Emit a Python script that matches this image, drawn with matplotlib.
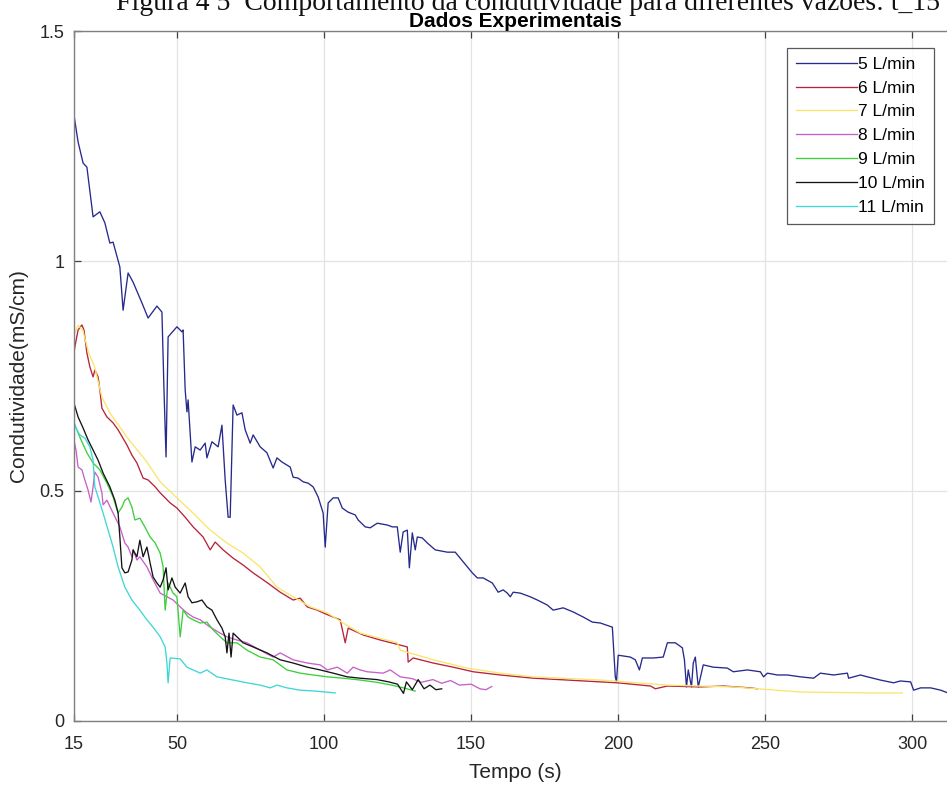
import matplotlib
matplotlib.use("Agg")
import matplotlib.pyplot as plt

# ---- data: time (s) and conductivity (mS/cm) for each flow rate ----
labels = ["5 L/min", "6 L/min", "7 L/min", "8 L/min", "9 L/min", "10 L/min", "11 L/min"]

t5 = [15.0, 16.4, 18.1, 19.4, 21.5, 23.8, 25.5, 27.2, 28.3, 30.6, 31.7, 33.4, 35.1, 38.1, 40.2, 43.2,
      44.9, 45.6, 46.3, 47.0, 50.0, 51.7, 52.1, 52.8, 53.4, 53.8, 55.1, 56.2, 57.9, 59.6, 60.2, 61.9,
      64.0, 65.3, 66.4, 67.4, 68.1, 69.1, 70.4, 72.1, 73.2, 74.9, 75.9, 78.3, 80.6, 82.7, 84.0, 85.7,
      88.5, 89.5, 91.2, 92.9, 94.6, 96.3, 98.0, 99.7, 100.4, 101.4, 103.1, 104.8, 106.2, 108.2, 110.6,
      111.6, 114.0, 115.7, 118.1, 121.5, 123.2, 124.9, 125.9, 126.9, 128.3, 129.0, 130.0, 131.0, 131.7,
      133.4, 135.1, 137.8, 141.9, 144.6, 147.3, 150.4, 152.1, 154.1, 157.2, 159.2, 160.9, 162.3, 163.3,
      164.3, 166.7, 170.1, 172.5, 175.9, 177.9, 181.3, 184.7, 188.1, 191.2, 193.9, 198.0, 199.0, 199.4,
      200.0, 204.1, 205.8, 207.2, 208.2, 212.0, 215.3, 216.7, 219.4, 221.8, 222.5, 223.2, 223.8, 224.9,
      225.5, 226.2, 227.2, 228.9, 232.3, 237.1, 239.1, 243.9, 248.3, 249.4, 250.7, 254.1, 257.5, 261.9,
      266.4, 268.7, 273.2, 277.9, 278.3, 282.3, 284.7, 289.1, 293.6, 295.9, 299.4, 300.4, 302.8, 306.2,
      309.6, 312.0, 315.0]
c5 = [1.317, 1.259, 1.213, 1.204, 1.096, 1.107, 1.083, 1.039, 1.041, 0.987, 0.893, 0.974, 0.954, 0.909,
      0.876, 0.902, 0.889, 0.720, 0.574, 0.835, 0.857, 0.846, 0.850, 0.720, 0.672, 0.698, 0.563, 0.596,
      0.589, 0.604, 0.572, 0.607, 0.596, 0.643, 0.524, 0.443, 0.443, 0.687, 0.665, 0.670, 0.633, 0.604,
      0.622, 0.596, 0.583, 0.550, 0.572, 0.563, 0.552, 0.530, 0.528, 0.520, 0.517, 0.509, 0.487, 0.452,
      0.378, 0.474, 0.485, 0.485, 0.463, 0.454, 0.448, 0.437, 0.422, 0.420, 0.430, 0.426, 0.422, 0.422,
      0.367, 0.411, 0.415, 0.333, 0.409, 0.372, 0.400, 0.398, 0.387, 0.372, 0.367, 0.367, 0.346, 0.322,
      0.311, 0.311, 0.300, 0.280, 0.285, 0.278, 0.270, 0.280, 0.278, 0.270, 0.263, 0.252, 0.241, 0.246,
      0.237, 0.226, 0.215, 0.213, 0.204, 0.096, 0.085, 0.143, 0.139, 0.133, 0.111, 0.137, 0.137, 0.139,
      0.170, 0.170, 0.159, 0.133, 0.074, 0.111, 0.074, 0.126, 0.139, 0.074, 0.122, 0.117, 0.115, 0.107,
      0.111, 0.107, 0.096, 0.104, 0.100, 0.100, 0.096, 0.093, 0.104, 0.100, 0.104, 0.093, 0.100, 0.096,
      0.089, 0.083, 0.087, 0.085, 0.067, 0.072, 0.072, 0.067, 0.061, 0.060]

t6 = [15.0, 15.3, 16.4, 17.7, 18.4, 19.4, 20.4, 21.5, 22.1, 23.2, 23.8, 24.5, 26.2, 28.3, 30.0, 33.0,
      34.7, 36.4, 38.5, 40.2, 42.6, 44.3, 47.7, 50.0, 52.8, 55.5, 58.9, 61.3, 63.0, 65.7, 69.1, 72.5,
      75.9, 79.3, 81.7, 85.1, 89.5, 91.9, 94.3, 97.7, 99.7, 103.1, 105.5, 107.2, 108.2, 113.3, 119.1,
      125.9, 128.3, 128.6, 130.3, 137.1, 143.9, 150.7, 159.9, 171.1, 182.7, 193.9, 199.7, 211.0, 212.6,
      216.7, 227.9, 235.7, 244.9, 247.3]
c6 = [0.800, 0.813, 0.850, 0.861, 0.850, 0.800, 0.770, 0.748, 0.763, 0.748, 0.720, 0.680, 0.661, 0.648,
      0.633, 0.600, 0.578, 0.561, 0.528, 0.524, 0.509, 0.496, 0.474, 0.463, 0.443, 0.422, 0.400, 0.372,
      0.389, 0.372, 0.354, 0.339, 0.322, 0.307, 0.296, 0.280, 0.263, 0.267, 0.248, 0.241, 0.235, 0.226,
      0.220, 0.170, 0.202, 0.187, 0.176, 0.165, 0.161, 0.128, 0.137, 0.126, 0.117, 0.107, 0.100, 0.093,
      0.089, 0.085, 0.083, 0.076, 0.070, 0.076, 0.074, 0.076, 0.072, 0.070]

t7 = [15.0, 16.4, 18.0, 20.0, 22.0, 24.5, 27.2, 33.0, 39.8, 44.3, 50.0, 55.5, 61.3, 67.0, 72.5, 78.3,
      84.0, 89.5, 95.3, 101.1, 106.5, 112.3, 124.9, 125.9, 137.1, 148.7, 159.9, 171.1, 193.9, 216.7,
      239.1, 262.0, 284.7, 296.6]
c7 = [0.840, 0.860, 0.850, 0.800, 0.770, 0.704, 0.670, 0.617, 0.563, 0.520, 0.485, 0.452, 0.415, 0.387,
      0.365, 0.335, 0.291, 0.270, 0.248, 0.235, 0.213, 0.191, 0.170, 0.154, 0.133, 0.115, 0.104, 0.096,
      0.089, 0.078, 0.074, 0.063, 0.061, 0.061]

t8 = [15.0, 15.7, 16.4, 17.7, 18.7, 19.8, 20.8, 21.5, 22.1, 23.2, 24.5, 24.9, 26.2, 28.3, 30.6, 32.3,
      33.4, 34.7, 35.1, 36.4, 37.4, 39.8, 41.9, 44.3, 46.6, 48.7, 51.1, 53.4, 55.5, 57.9, 61.3, 64.7,
      67.0, 70.4, 73.8, 78.3, 82.7, 85.1, 89.5, 94.3, 98.7, 101.1, 104.5, 107.9, 109.9, 112.3, 114.7,
      120.1, 122.5, 125.9, 130.0, 133.0, 137.0, 140.0, 143.0, 146.0, 150.0, 153.0, 155.0, 157.0]
c8 = [0.610, 0.589, 0.552, 0.546, 0.524, 0.502, 0.476, 0.509, 0.541, 0.530, 0.496, 0.470, 0.480, 0.452,
      0.422, 0.387, 0.378, 0.357, 0.372, 0.350, 0.357, 0.335, 0.307, 0.278, 0.270, 0.263, 0.248, 0.235,
      0.226, 0.220, 0.204, 0.191, 0.183, 0.176, 0.170, 0.154, 0.139, 0.148, 0.133, 0.126, 0.122, 0.111,
      0.117, 0.104, 0.117, 0.111, 0.107, 0.104, 0.111, 0.096, 0.092, 0.084, 0.090, 0.082, 0.088, 0.078,
      0.080, 0.070, 0.068, 0.075]

t9 = [15.0, 17.0, 19.4, 21.5, 23.8, 26.2, 28.3, 30.0, 31.3, 32.3, 33.4, 34.7, 35.7, 37.4, 39.1, 40.9,
      42.6, 44.3, 45.3, 46.0, 47.0, 48.7, 50.0, 51.1, 52.1, 53.8, 55.5, 57.9, 60.2, 62.3, 64.7, 67.0,
      70.4, 73.8, 78.3, 82.7, 87.4, 91.9, 96.3, 101.1, 106.5, 112.3, 118.0, 123.0, 127.0, 131.0]
c9 = [0.648, 0.617, 0.583, 0.561, 0.546, 0.517, 0.487, 0.452, 0.465, 0.480, 0.485, 0.465, 0.437, 0.441,
      0.422, 0.400, 0.387, 0.365, 0.335, 0.241, 0.300, 0.278, 0.270, 0.183, 0.241, 0.226, 0.220, 0.213,
      0.215, 0.198, 0.183, 0.170, 0.170, 0.154, 0.139, 0.133, 0.111, 0.104, 0.100, 0.096, 0.093, 0.089,
      0.084, 0.078, 0.072, 0.065]

t10 = [15.0, 16.4, 18.1, 19.8, 21.5, 23.2, 24.9, 27.2, 28.9, 30.0, 30.6, 31.3, 32.3, 33.4, 34.7, 35.1,
       36.4, 37.4, 38.5, 39.8, 40.9, 41.9, 43.2, 44.3, 45.3, 46.3, 47.0, 48.3, 49.4, 51.1, 52.8, 53.8,
       55.1, 56.8, 58.5, 60.2, 61.9, 63.6, 65.3, 66.4, 67.0, 67.7, 68.4, 69.1, 70.4, 72.5, 75.9, 80.6,
       85.1, 89.5, 94.3, 98.7, 103.1, 107.9, 112.3, 118.0, 122.0, 125.0, 127.0, 128.0, 130.0, 132.0,
       134.0, 136.0, 138.0, 140.0]
c10 = [0.691, 0.661, 0.637, 0.611, 0.589, 0.567, 0.539, 0.509, 0.480, 0.452, 0.400, 0.333, 0.322, 0.324,
       0.350, 0.372, 0.357, 0.393, 0.357, 0.378, 0.343, 0.313, 0.300, 0.291, 0.307, 0.333, 0.285, 0.311,
       0.291, 0.278, 0.300, 0.270, 0.257, 0.259, 0.263, 0.248, 0.241, 0.220, 0.202, 0.183, 0.148, 0.191,
       0.139, 0.191, 0.183, 0.170, 0.161, 0.148, 0.133, 0.126, 0.117, 0.111, 0.104, 0.096, 0.093, 0.090,
       0.085, 0.080, 0.060, 0.085, 0.068, 0.090, 0.070, 0.078, 0.068, 0.070]

t11 = [15.0, 16.0, 17.0, 18.7, 20.4, 21.5, 22.1, 23.2, 24.9, 26.6, 28.3, 30.0, 32.3, 34.7, 37.4, 39.8,
       42.6, 44.3, 46.0, 46.6, 47.0, 47.7, 51.1, 53.4, 55.5, 57.9, 60.2, 63.6, 69.1, 73.8, 78.3, 81.7,
       84.0, 87.4, 91.9, 97.0, 103.8]
c11 = [0.648, 0.633, 0.622, 0.615, 0.596, 0.567, 0.509, 0.487, 0.452, 0.415, 0.378, 0.335, 0.291, 0.263,
       0.241, 0.220, 0.198, 0.183, 0.161, 0.126, 0.083, 0.137, 0.135, 0.117, 0.111, 0.104, 0.111, 0.096,
       0.089, 0.083, 0.078, 0.072, 0.078, 0.072, 0.067, 0.065, 0.061]

times = [t5, t6, t7, t8, t9, t10, t11]
values = [c5, c6, c7, c8, c9, c10, c11]
colors = ["#27298c", "#b8233a", "#f8e66a", "#c860c8", "#3ccf3c", "#141414", "#3fd6d6"]

x_ticks = [15, 50, 100, 150, 200, 250, 300]
y_ticks = [0, 0.5, 1, 1.5]
y_tick_labels = ["0", "0.5", "1", "1.5"]

plt.rcParams["font.family"] = ["Liberation Sans", "DejaVu Sans"]

fig = plt.figure(figsize=(9.47, 7.89), dpi=100)
ax = fig.add_axes([0.0781, 0.0862, 0.932, 0.8745])

for t, c, col, lab in zip(times, values, colors, labels):
    ax.plot(t, c, color=col, lw=0.95, label=lab)

ax.set_xlim(15, 315)
ax.set_ylim(0, 1.5)
ax.set_xticks(x_ticks)
ax.set_yticks(y_ticks)
ax.set_yticklabels(y_tick_labels)
ax.grid(True, color="#e3e3e3", lw=0.9)
ax.set_axisbelow(True)
ax.tick_params(direction="in", length=5, width=0.9, color="#404040",
               labelsize=13, labelcolor="#262626", top=True, right=True)
ax.tick_params(axis="x", pad=11)
ax.tick_params(axis="y", pad=7)
for s in ax.spines.values():
    s.set_color("#808080")
    s.set_linewidth(1.0)

ax.set_xlabel("Tempo (s)", fontsize=15, color="#262626", labelpad=7)
ax.set_ylabel("Condutividade(mS/cm)", fontsize=15, color="#262626", labelpad=8)
ax.set_title("Dados Experimentais", fontsize=15, fontweight="bold", pad=3)

leg = ax.legend(loc="upper right", bbox_to_anchor=(934 / 947, 1 - 48 / 789),
                bbox_transform=fig.transFigure, fontsize=12.5, frameon=True,
                fancybox=False, edgecolor="#303030", handlelength=3.5,
                handletextpad=0.1, labelspacing=0.5, borderpad=0.5,
                borderaxespad=0)
leg.get_frame().set_linewidth(0.9)

fig.text(0.122, 1 - 10 / 789, "Figura 4 5  Comportamento da condutividade para diferentes vazões: t_15",
         family=["Liberation Serif", "DejaVu Serif"], fontsize=20, ha="left", va="baseline",
         color="#111111")

fig.savefig("out.png", dpi=100)
